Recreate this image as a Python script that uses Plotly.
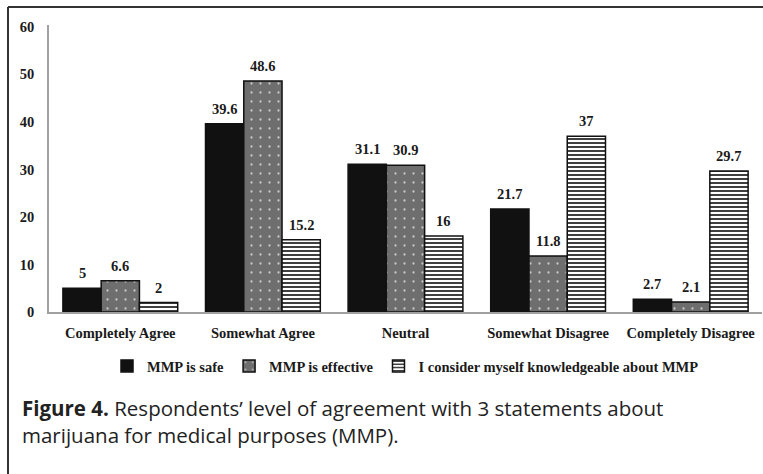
import plotly.graph_objects as go

# Survey responses (%) per agreement level
categories = ["Completely Agree", "Somewhat Agree", "Neutral",
              "Somewhat Disagree", "Completely Disagree"]
safe = [5, 39.6, 31.1, 21.7, 2.7]
effective = [6.6, 48.6, 30.9, 11.8, 2.1]
knowledgeable = [2, 15.2, 16, 37, 29.7]
series_names = ["MMP is safe", "MMP is effective",
                "I consider myself knowledgeable about MMP"]
y_ticks = [0, 10, 20, 30, 40, 50, 60]

SERIF = "Liberation Serif"
TXT = "#1a1a1a"
BARGAP = 0.195

fig = go.Figure()

styles = [
    dict(color="#111111", pattern=dict(shape="")),
    dict(color="#6e6e6e", pattern=dict(shape=".", fgcolor="#c8c8c8", bgcolor="#6e6e6e",
                                        size=9, solidity=0.05, fillmode="replace")),
    dict(color="#ffffff", pattern=dict(shape="-", fgcolor="#2a2a2a", bgcolor="#ffffff",
                                        size=4, solidity=0.45, fillmode="replace")),
]

all_series = [safe, effective, knowledgeable]
for name, vals, st in zip(series_names, all_series, styles):
    fig.add_trace(go.Bar(
        x=categories, y=vals, name=name,
        marker=dict(color=st["color"], pattern=st["pattern"],
                    line=dict(color="#111111", width=1.5)),
        hoverinfo="x+y",
    ))

# value labels above each bar
n = len(all_series)
bw = (1 - BARGAP) / n
annotations = []
for k, vals in enumerate(all_series):
    off = (k - (n - 1) / 2) * bw
    for i, v in enumerate(vals):
        annotations.append(dict(
            x=i + off, y=v, xref="x", yref="y", text=f"{v:g}",
            showarrow=False, yanchor="bottom", yshift=5,
            font=dict(family=SERIF, size=14.5, color=TXT, weight="bold"),
        ))

# caption below the chart
PW, PH, L, B = 713, 287, 49, 162
def px_x(px):
    return (px - L) / PW
def px_y(py):
    return (474 - B - py) / PH

annotations.append(dict(
    xref="paper", yref="paper", x=px_x(20), y=px_y(392), xanchor="left", yanchor="top",
    showarrow=False, align="left",
    text=("<b>Figure 4.</b> Respondents’ level of agreement with 3 statements about"
          "<br>marijuana for medical purposes (MMP)."),
    font=dict(family="Open Sans", size=20.5, color="#222222"),
))

frame = dict(color="#333333", width=2)
shapes = [
    dict(type="line", xref="paper", yref="paper", x0=px_x(8), x1=px_x(765),
         y0=px_y(7), y1=px_y(7), line=frame),
    dict(type="line", xref="paper", yref="paper", x0=px_x(8), x1=px_x(8),
         y0=px_y(7), y1=px_y(476), line=frame),
]

fig.update_layout(
    width=763, height=474,
    margin=dict(l=L, r=763 - L - PW, t=474 - B - PH, b=B),
    paper_bgcolor="white", plot_bgcolor="white",
    barmode="group", bargap=BARGAP, bargroupgap=0,
    showlegend=True,
    legend=dict(orientation="h", x=0.5, xanchor="center", y=px_y(366), yanchor="middle",
                font=dict(family=SERIF, size=14.5, color=TXT, weight="bold"),
                itemwidth=30, tracegroupgap=0, bgcolor="rgba(0,0,0,0)"),
    annotations=annotations,
    shapes=shapes,
    xaxis=dict(showline=True, linecolor="#a0a0a0", linewidth=1.5, showgrid=False,
               ticks="", ticklabelstandoff=7,
               tickfont=dict(family=SERIF, size=14.5, color=TXT, weight="bold")),
    yaxis=dict(range=[0, 60.4], tickvals=y_ticks, showline=True, linecolor="#a0a0a0",
               linewidth=1.5, showgrid=False, zeroline=False, ticks="", ticklabelstandoff=10,
               tickfont=dict(family=SERIF, size=14.5, color=TXT, weight="bold")),
)

fig.write_html("out.html")
